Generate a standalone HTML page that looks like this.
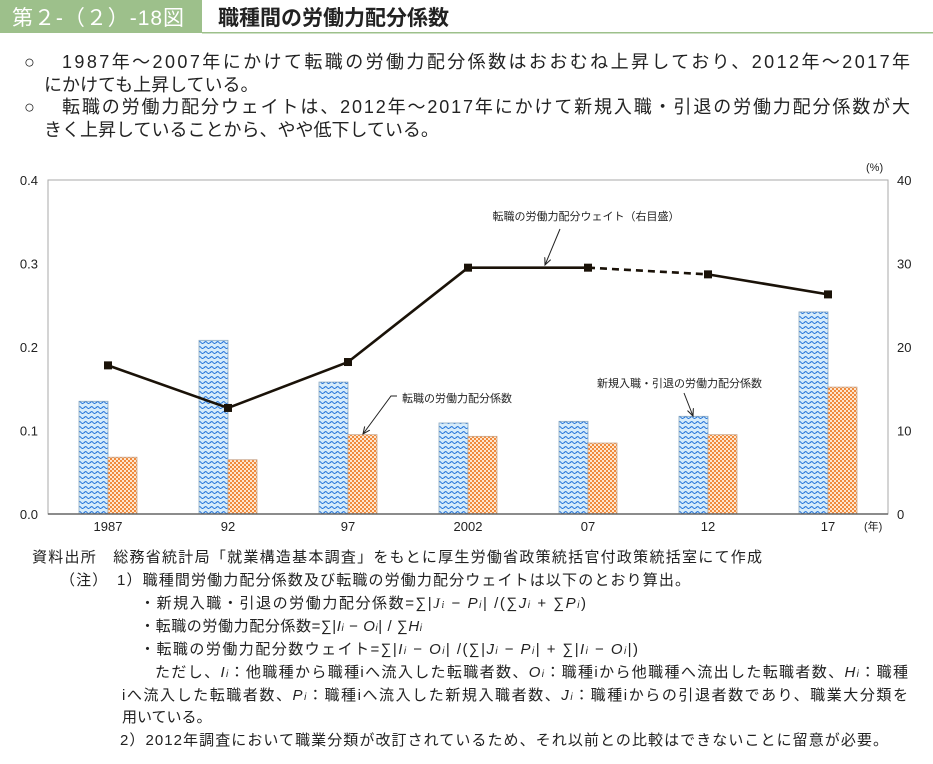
<!DOCTYPE html>
<html><head><meta charset="utf-8"><style>
body{margin:0;width:933px;height:759px;background:#fff;overflow:hidden;font-family:"Liberation Sans","Noto Sans CJK JP",sans-serif;}
svg text{font-family:"Liberation Sans","Noto Sans CJK JP",sans-serif;fill:#222;}
.serif{font-family:"Liberation Serif","Noto Serif CJK SC",serif;}
</style></head><body>
<svg width="933" height="759" viewBox="0 0 933 759">
<defs>
<pattern id="wave" width="6" height="5" patternUnits="userSpaceOnUse">
<rect width="6" height="5" fill="#d6ecfb"/>
<path d="M0 3 Q1.5 0.5 3 2.5 T6 2.5" stroke="#1d6fd8" stroke-width="1" fill="none"/>
</pattern>
<pattern id="check" width="4" height="4" patternUnits="userSpaceOnUse">
<rect width="4" height="4" fill="#fde6cf"/>
<rect width="2" height="2" fill="#f08a3c"/><rect x="2" y="2" width="2" height="2" fill="#f08a3c"/>
</pattern>
<marker id="arr" viewBox="0 0 10 10" refX="9" refY="5" markerWidth="8" markerHeight="8" orient="auto"><path d="M0 1 L9 5 L0 9" fill="none" stroke="#222" stroke-width="1.3"/></marker>
</defs>
<g>
<rect x="0" y="0" width="202" height="33" fill="#9dc08b"/>
<text x="12" y="25" font-size="21" textLength="172" style="fill:#fff">第２-（２）-18図</text>
<rect x="202" y="32" width="731" height="1.5" fill="#9dc08b"/>
<text x="218" y="25" font-size="21" font-weight="bold">職種間の労働力配分係数</text>
</g>
<g font-size="18">
<text x="24" y="68">○</text>
<text x="62" y="68" textLength="848">1987年～2007年にかけて転職の労働力配分係数はおおむね上昇しており、2012年～2017年</text>
<text x="44" y="91">にかけても上昇している。</text>
<text x="24" y="113">○</text>
<text x="62" y="113" textLength="848">転職の労働力配分ウェイトは、2012年～2017年にかけて新規入職・引退の労働力配分係数が大</text>
<text x="44" y="136">きく上昇していることから、やや低下している。</text>
</g>
<g id="chart"></g>
<g font-size="15">
<text x="32" y="562" textLength="730">資料出所　総務省統計局「就業構造基本調査」をもとに厚生労働省政策統括官付政策統括室にて作成</text>
<text x="60" y="585" textLength="630">（注）　1）職種間労働力配分係数及び転職の労働力配分ウェイトは以下のとおり算出。</text>
<text x="140" y="608" textLength="446">・新規入職・引退の労働力配分係数=∑|<tspan class="serif" font-style="italic">J<tspan font-size="10">i</tspan></tspan> − <tspan font-style="italic">P<tspan font-size="10">i</tspan></tspan>| /(∑<tspan font-style="italic">J<tspan font-size="10">i</tspan></tspan> + ∑<tspan font-style="italic">P<tspan font-size="10">i</tspan></tspan>)</text>
<text x="140" y="631" textLength="282">・転職の労働力配分係数=∑|<tspan font-style="italic">I<tspan font-size="10">i</tspan></tspan> − <tspan font-style="italic">O<tspan font-size="10">i</tspan></tspan>| / ∑<tspan font-style="italic">H<tspan font-size="10">i</tspan></tspan></text>
<text x="140" y="654" textLength="498">・転職の労働力配分数ウェイト=∑|<tspan font-style="italic">I<tspan font-size="10">i</tspan></tspan> − <tspan font-style="italic">O<tspan font-size="10">i</tspan></tspan>| /(∑|<tspan font-style="italic">J<tspan font-size="10">i</tspan></tspan> − <tspan font-style="italic">P<tspan font-size="10">i</tspan></tspan>| + ∑|<tspan font-style="italic">I<tspan font-size="10">i</tspan></tspan> − <tspan font-style="italic">O<tspan font-size="10">i</tspan></tspan>|)</text>
<text x="155" y="677" textLength="753">ただし、<tspan font-style="italic">I<tspan font-size="10">i</tspan></tspan>：他職種から職種iへ流入した転職者数、<tspan font-style="italic">O<tspan font-size="10">i</tspan></tspan>：職種iから他職種へ流出した転職者数、<tspan font-style="italic">H<tspan font-size="10">i</tspan></tspan>：職種</text>
<text x="122" y="700" textLength="786">iへ流入した転職者数、<tspan font-style="italic">P<tspan font-size="10">i</tspan></tspan>：職種iへ流入した新規入職者数、<tspan font-style="italic">J<tspan font-size="10">i</tspan></tspan>：職種iからの引退者数であり、職業大分類を</text>
<text x="122" y="722">用いている。</text>
<text x="120" y="745" textLength="768">2）2012年調査において職業分類が改訂されているため、それ以前との比較はできないことに留意が必要。</text>
</g>
</svg>
<script>
const categories=["1987","92","97","2002","07","12","17"];
const newEntryCoef=[0.135,0.208,0.158,0.109,0.111,0.117,0.242];
const jobChangeCoef=[0.068,0.065,0.095,0.093,0.085,0.095,0.152];
const jobChangeWeight=[17.8,12.7,18.2,29.5,29.5,28.7,26.3];
const leftTicks=["0.0","0.1","0.2","0.3","0.4"];
const rightTicks=["0","10","20","30","40"];
const NS="http://www.w3.org/2000/svg";
const g=document.getElementById('chart');
const L=48,R=888,T=180,B=514;
const bw=(R-L)/categories.length;
const xc=i=>L+bw*(i+0.5);
const yL=v=>B-(v/0.4)*(B-T);
const yR=v=>B-(v/40)*(B-T);
function el(tag,attrs,txt){const e=document.createElementNS(NS,tag);for(const k in attrs)e.setAttribute(k,attrs[k]);if(txt!=null)e.textContent=txt;g.appendChild(e);return e;}
let e=el('rect',{x:L,y:T,width:R-L,height:B-T,fill:'none',stroke:'#aaa','stroke-width':1});


leftTicks.forEach((t,i)=>{const v=i*0.1;
 let a=el('text',{x:38,y:yL(v)+5,'text-anchor':'end','font-size':13},t);
 
 });
rightTicks.forEach((t,i)=>{const v=i*10;
 let a=el('text',{x:897,y:yR(v)+5,'font-size':13},t);
 
 });
e=el('text',{x:866,y:171,'font-size':11},'(%)');


categories.forEach((c,i)=>{
 let b=el('rect',{x:xc(i)-29,y:yL(newEntryCoef[i]),width:29,height:B-yL(newEntryCoef[i]),fill:'url(#wave)',stroke:'#8aa7bf','stroke-width':0.8});
 
 
 let o=el('rect',{x:xc(i),y:yL(jobChangeCoef[i]),width:29,height:B-yL(jobChangeCoef[i]),fill:'url(#check)',stroke:'#c9a58a','stroke-width':0.8});
 
 
 let t=el('text',{x:xc(i),y:B+17,'text-anchor':'middle','font-size':13},c);
 
 
});
e=el('line',{x1:L,x2:R,y1:B,y2:B,stroke:'#666','stroke-width':1.5});


e=el('text',{x:864,y:530,'font-size':11},'(年)');


for(let i=0;i<categories.length-1;i++){
 const s=el('line',{x1:xc(i),y1:yR(jobChangeWeight[i]),x2:xc(i+1),y2:yR(jobChangeWeight[i+1]),stroke:'#1a1208','stroke-width':2.6});
 if(i===4)s.setAttribute('stroke-dasharray','7 5');
 
 
}
categories.forEach((c,i)=>{
 const m=el('rect',{x:xc(i)-4,y:yR(jobChangeWeight[i])-4,width:8,height:8,fill:'#1a1208'});
 
 
});
e=el('text',{x:586,y:220,'text-anchor':'middle','font-size':11},'転職の労働力配分ウェイト（右目盛）');


el('line',{x1:560,y1:229,x2:545,y2:265,stroke:'#222','stroke-width':1,'marker-end':'url(#arr)'});
e=el('text',{x:402,y:402,'font-size':11},'転職の労働力配分係数');


el('polyline',{points:'397,396 391,396 363,434',fill:'none',stroke:'#222','stroke-width':1,'marker-end':'url(#arr)'});
e=el('text',{x:597,y:387,'font-size':11},'新規入職・引退の労働力配分係数');


el('line',{x1:684,y1:393,x2:693,y2:416,stroke:'#222','stroke-width':1,'marker-end':'url(#arr)'});
</script>
</body></html>
